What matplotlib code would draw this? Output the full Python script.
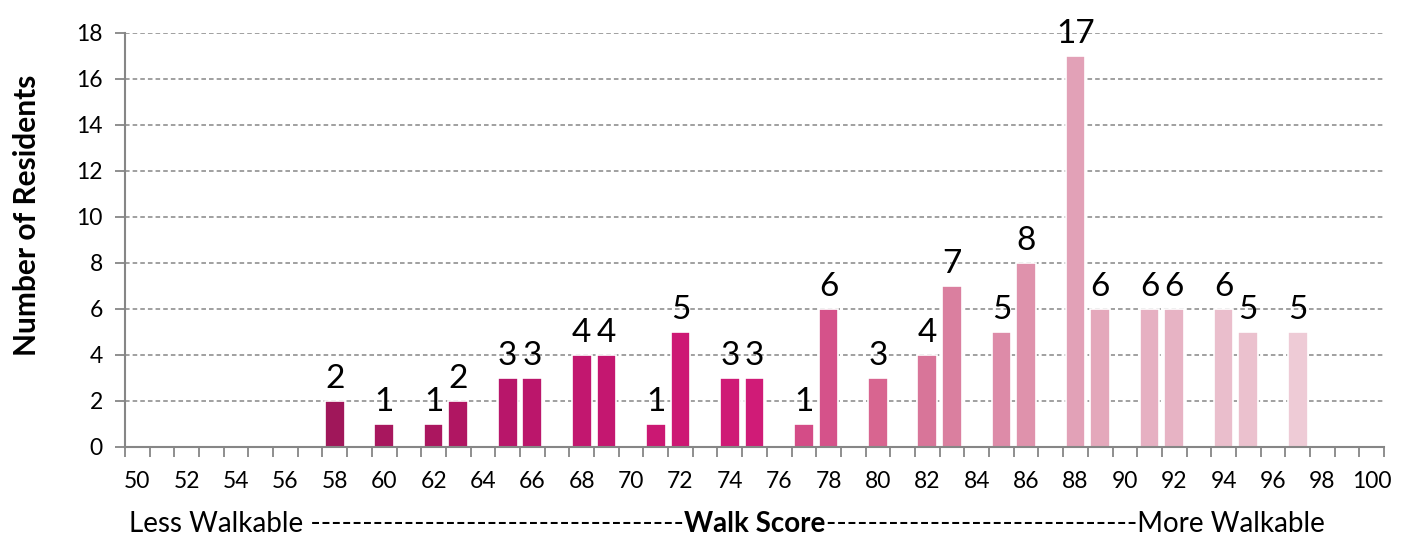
import matplotlib
matplotlib.use('Agg')
import numpy as np
import matplotlib.pyplot as plt

# -----------------------------
# DATA
# -----------------------------
scores = [58, 60, 62, 63, 65, 66, 68, 69, 71, 72, 74, 75, 77, 78, 80,
          82, 83, 85, 86, 88, 89, 91, 92, 94, 95, 97]
residents = [2, 1, 1, 2, 3, 3, 4, 4, 1, 5, 3, 3, 1, 6, 3,
             4, 7, 5, 8, 17, 6, 6, 6, 6, 5, 5]
bar_colors = ['#a0175a', '#a8175e', '#ab165f', '#b01662', '#b8166a', '#bb166b',
              '#c2176f', '#c41770', '#cb1873', '#cd1874', '#cf1a76', '#d01b77',
              '#d44c87', '#d5528a', '#d86590', '#d87599', '#da7f9f', '#dd8ba8',
              '#df92ac', '#e2a1b7', '#e4a8bb', '#e6b0c2', '#e7b3c4', '#eabecc',
              '#ebc1ce', '#eecbd6']
x_ticks = list(range(50, 101, 2))
y_ticks = list(range(0, 19, 2))

font = 'Lato'
grey = '#868686'

fig = plt.figure(figsize=(14.06, 5.39), dpi=100)
ax = fig.add_axes([0.0889, 0.1707, 0.8955, 0.7681])

bars = ax.bar(scores, residents, width=0.8, color=bar_colors,
              edgecolor='white', linewidth=1.2, zorder=3)

for s, v in zip(scores, residents):
    ax.annotate(str(v), (s, v), xytext=(0, 5), textcoords='offset points',
                ha='center', va='bottom', fontsize=24, family=font, zorder=4)

ax.set_xlim(49.5, 100.5)
ax.set_ylim(0, 18)
ax.set_yticks(y_ticks)
ax.set_xticks(x_ticks)
ax.set_xticks(np.arange(49.5, 101, 1), minor=True)
ax.tick_params(axis='x', which='major', length=0, pad=17, labelsize=16.5)
ax.tick_params(axis='x', which='minor', length=7, color=grey, width=1.3, direction='out')
ax.tick_params(axis='y', length=7, color=grey, width=1.3, labelsize=16.5, pad=9)
for lab in ax.get_xticklabels() + ax.get_yticklabels():
    lab.set_family(font)

ax.yaxis.grid(True, linestyle=(0, (3, 2)), color=grey, linewidth=1.1, zorder=0)
ax.set_axisbelow(True)
for side in ['top', 'right']:
    ax.spines[side].set_visible(False)
for side in ['left', 'bottom']:
    ax.spines[side].set_color(grey)
    ax.spines[side].set_linewidth(1.5)
    ax.spines[side].set_zorder(5)

fig.text(0.019, 0.601, 'Number of Residents', rotation=90, ha='center', va='center',
         fontsize=21.5, fontweight='bold', family=font)

# -----------------------------
# BOTTOM AXIS CAPTION
# -----------------------------
cap_size = 20
y_cap = 1 - 524 / 539
mid = fig.text(755 / 1406, y_cap, 'Walk Score', ha='center', va='center',
               fontsize=cap_size, fontweight='bold', family=font)
fig.canvas.draw()
r = fig.canvas.get_renderer()
bb = mid.get_window_extent(r)


def fill_dashes(prefix, suffix, target):
    # add dashes until the text reaches the target width in pixels
    n = 1
    while True:
        s = prefix + '-' * n + suffix
        t = fig.text(0, 0, s, fontsize=cap_size, family=font)
        w = t.get_window_extent(r).width
        t.remove()
        if w >= target:
            return s
        n += 1


left_s = fill_dashes('Less Walkable ', '', bb.x0 - 137)
right_s = fill_dashes('', 'More Walkable', 1318 - bb.x1)
fig.text(bb.x0 / 1406, y_cap, left_s, ha='right', va='center', fontsize=cap_size, family=font)
fig.text(bb.x1 / 1406, y_cap, right_s, ha='left', va='center', fontsize=cap_size, family=font)

plt.savefig('out.png', dpi=100)
